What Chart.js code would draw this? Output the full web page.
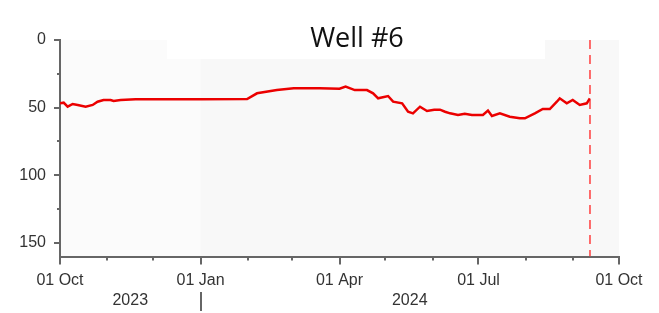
<!DOCTYPE html>
<html><head><meta charset="utf-8">
<script src="https://cdn.jsdelivr.net/npm/chart.js@4.4.0/dist/chart.umd.min.js"></script>
<style>
 html,body{margin:0;padding:0;background:#fff;}
 #wrap{position:relative;width:659px;height:313px;}
</style>
</head>
<body>
<div id="wrap"><canvas id="myChart" width="659" height="313"></canvas></div>
<script>
// days counted from 01 Oct 2023
var days  = [0, 2.4, 5, 8.3, 11.6, 16.8, 21.4, 24.6, 28.5, 33.1, 35.1, 39.7, 49.5, 92, 122.5, 129, 142, 153, 170, 183, 187, 193, 197, 201, 205, 208.3, 214.8, 218.1, 224, 227.9, 231.1, 235.7, 240.3, 245, 248.8, 252.1, 255.4, 260.6, 265, 269.7, 276.9, 280.2, 282.8, 288, 294.5, 301.1, 304.4, 310.9, 316.1, 320.7, 325.3, 327.2, 331.8, 335.7, 340.3, 344.9, 346.9];
var depth = [46.8, 46.3, 49.3, 47.3, 48, 49.3, 48, 45.6, 44.3, 44.3, 45, 44.3, 43.8, 43.7, 43.6, 39.4, 37, 35.7, 35.7, 36, 34.5, 37, 37, 37, 39.4, 43.1, 41.4, 45.6, 46.8, 53, 54.2, 49.3, 52.5, 51.5, 51.5, 53, 54.2, 55.4, 54.5, 55.4, 55.4, 52.2, 56.2, 54.2, 56.7, 57.9, 57.9, 54.2, 51, 51, 45.6, 43.1, 46.8, 44.3, 48, 46.8, 43.1];
var markerDay = 347;   // dashed "today" line
var monthTicks = [0, 31, 61, 92, 123, 152, 183, 213, 244, 274, 305, 336, 366];
var quarterLabels = {0: '01 Oct', 92: '01 Jan', 183: '01 Apr', 274: '01 Jul', 366: '01 Oct'};
var yTicks = [0, 25, 50, 75, 100, 125, 150];
var years = ['2023', '2024'];
var yearSpans = [[0, 92], [92, 366]];
var title = 'Well #6';

var axisCol = '#666666';
var labelFont = {family: 'Liberation Sans', size: 16};

var decor = {
  id: 'decor',
  beforeDraw: function(chart) {
    var c = chart.ctx, a = chart.chartArea;
    c.save();
    c.fillStyle = '#f8f8f8';
    c.fillRect(a.left, a.top, a.right - a.left, a.bottom - a.top);
    c.fillStyle = '#fbfbfb';
    var xs = chart.scales.x;
    c.fillRect(a.left, a.top, xs.getPixelForValue(92) - a.left, a.bottom - a.top);
    c.fillStyle = '#ffffff';
    c.fillRect(167, 0, 378, 59);
    c.restore();
  },
  afterDraw: function(chart) {
    var c = chart.ctx, a = chart.chartArea;
    var xs = chart.scales.x, ys = chart.scales.y;
    c.save();
    // minor ticks
    c.strokeStyle = axisCol; c.lineWidth = 2;
    monthTicks.forEach(function(d) {
      if (quarterLabels[d]) return;
      var px = Math.round(xs.getPixelForValue(d));
      c.beginPath(); c.moveTo(px, a.bottom); c.lineTo(px, a.bottom + 4); c.stroke();
    });
    yTicks.forEach(function(v) {
      if (v % 50 === 0) return;
      var py = Math.round(ys.getPixelForValue(v));
      c.beginPath(); c.moveTo(a.left - 3, py); c.lineTo(a.left + 1, py); c.stroke();
    });
    // year row
    c.fillStyle = '#333333';
    c.font = '16px "Liberation Sans"';
    c.textAlign = 'center'; c.textBaseline = 'middle';
    years.forEach(function(y, i) {
      var mid = (xs.getPixelForValue(yearSpans[i][0]) + xs.getPixelForValue(yearSpans[i][1])) / 2;
      c.fillText(y, mid, 301);
    });
    var sep = Math.round(xs.getPixelForValue(yearSpans[1][0]));
    c.strokeStyle = '#333333'; c.lineWidth = 1.5;
    c.beginPath(); c.moveTo(sep, 292); c.lineTo(sep, 311); c.stroke();
    // title
    c.fillStyle = '#111111';
    c.font = '27px "Open Sans"';
    c.textBaseline = 'alphabetic';
    c.fillText(title, 357, 47);
    c.restore();
  }
};

var ctx = document.getElementById('myChart');
var myChart = new Chart(ctx, {
  type: 'line',
  data: {
    datasets: [{
      data: days.map(function(d, i) { return {x: d, y: depth[i]}; }),
      borderColor: 'rgb(235,0,0)',
      borderWidth: 2.5,
      pointRadius: 0,
      tension: 0
    }, {
      data: [{x: markerDay, y: 0}, {x: markerDay, y: 160}],
      borderColor: 'rgb(255,60,60)',
      borderWidth: 1.5,
      borderDash: [9, 6],
      pointRadius: 0
    }]
  },
  plugins: [decor],
  options: {
    responsive: false,
    animation: false,
    layout: {padding: {top: 40, right: 40, left: 0, bottom: 0}},
    plugins: {legend: {display: false}, tooltip: {enabled: false}},
    scales: {
      x: {
        type: 'linear', min: 0, max: 366,
        afterBuildTicks: function(s) { s.ticks = monthTicks.map(function(v) { return {value: v}; }); },
        afterFit: function(s) { s.height = 56.5; },
        ticks: {
          autoSkip: false, maxRotation: 0, padding: 6,
          color: '#333333', font: labelFont,
          callback: function(v) { return quarterLabels[v] || ''; }
        },
        grid: {
          drawOnChartArea: false, tickLength: 8, lineWidth: 2,
          tickColor: function(c) { return quarterLabels[c.tick.value] ? axisCol : 'rgba(0,0,0,0)'; }
        },
        border: {color: axisCol, width: 2}
      },
      y: {
        reverse: true, min: 0, max: 160,
        afterBuildTicks: function(s) { s.ticks = yTicks.map(function(v) { return {value: v}; }); },
        afterFit: function(s) { s.width = 60; },
        ticks: {
          autoSkip: false, padding: 8,
          color: '#333333', font: labelFont,
          callback: function(v) { return v % 50 === 0 ? String(v) : ''; }
        },
        grid: {
          drawOnChartArea: false, tickLength: 6, lineWidth: 2,
          tickColor: function(c) { return c.tick.value % 50 === 0 ? axisCol : 'rgba(0,0,0,0)'; }
        },
        border: {color: axisCol, width: 2}
      }
    }
  }
});
</script>
</body></html>
